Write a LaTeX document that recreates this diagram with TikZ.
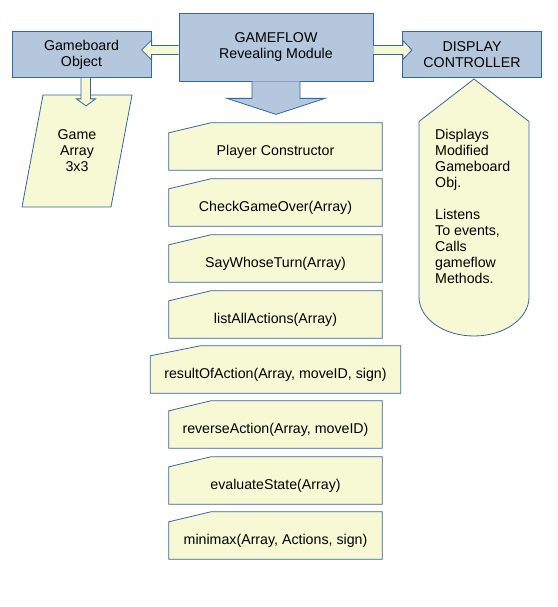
\documentclass[tikz,border=0pt]{standalone}
\usepackage{fontspec}
\setmainfont{Liberation Sans}
\usetikzlibrary{backgrounds}
\definecolor{boxblue}{HTML}{B4C7DC}
\definecolor{lineblue}{HTML}{3465A4}
\definecolor{noteyellow}{HTML}{F6F9D4}
\tikzset{
  module/.style={draw=lineblue,fill=boxblue,line width=.8pt,align=center,inner sep=0},
  note/.style={draw=lineblue,fill=noteyellow,line width=.8pt},
  method/.style={minimum height=37pt,inner sep=0},
  fatarrow/.style={draw=lineblue,line width=.8pt,line join=miter},
}

\begin{document}
\begin{tikzpicture}[x=1pt,y=-1pt,font=\fontsize{14.2}{16}\selectfont]
  \useasboundingbox (0,0) rectangle (557,607);

  \node[module,minimum width=139pt,minimum height=46pt] (board) at (81.5,54.5) {Gameboard\\Object};
  \node[module,minimum width=194pt,minimum height=68pt] (flow) at (276,47) {GAMEFLOW\\Revealing Module};
  \node[module,minimum width=139pt,minimum height=46pt] (display) at (472,54.5) {DISPLAY\\CONTROLLER};

  % block arrows out of the module
  \draw[fatarrow,fill=noteyellow] ([yshift=1.5pt]flow.west) -- ++(-27,0) -- ++(0,-5.5) -- ++(-10,10) -- ++(10,10) -- ++(0,-5.5) -- ++(27,0);
  \draw[fatarrow,fill=noteyellow] ([yshift=1.5pt]flow.east) -- ++(29.5,0) -- ++(0,-5) -- ++(9,9.5) -- ++(-9,9.5) -- ++(0,-5) -- ++(-29.5,0);
  \draw[fatarrow,fill=boxblue] ([xshift=-24pt]flow.south) -- ++(0,17) -- ++(-25,0) -- ++(49,16) -- ++(49,-16) -- ++(-25,0) -- ++(0,-17);

  % game array
  \draw[note] (43,95) -- (132,95) -- (111,207) -- (22,207) -- cycle;
  \draw[fatarrow,fill=noteyellow] ([xshift=-.5pt]board.south) -- ++(0,21) -- ++(-4.5,0) -- ++(9.5,7) -- ++(9.5,-7) -- ++(-5,0) -- ++(0,-21);
  \node[align=center] (array) at (77,151) {Game\\Array\\3x3};

  % display controller notes
  \draw[note] (474,79) -- (529,121.5) -- (529,297) .. controls (529,318.5) and (504.4,336) .. (474,336) .. controls (443.6,336) and (419,318.5) .. (419,297) -- (419,121.5) -- cycle;
  \node[align=left,anchor=north west,inner sep=0] (notes) at (435,129.5) {Displays\\Modified\\Gameboard\\Obj.\\[16pt]Listens\\To events,\\Calls\\gameflow\\Methods.};

  % methods
  \node[method,minimum width=213pt] (m1) at (275.5,151.5) {Player Constructor};
  \node[method,minimum width=213pt] (m2) at (275.5,207.5) {CheckGameOver(Array)};
  \node[method,minimum width=213pt] (m3) at (275.5,263.5) {SayWhoseTurn(Array)};
  \node[method,minimum width=213pt] (m4) at (275.5,319.5) {listAllActions(Array)};
  \node[method,minimum width=250pt] (m5) at (275.5,374.5) {resultOfAction(Array, moveID, sign)};
  \node[method,minimum width=213pt] (m6) at (275.5,429.5) {reverseAction(Array, moveID)};
  \node[method,minimum width=213pt] (m7) at (275.5,485.5) {evaluateState(Array)};
  \node[method,minimum width=213pt] (m8) at (275.5,540.5) {minimax(Array, Actions, sign)};

  \begin{scope}[on background layer]
    \draw[note] (m1.south west) -- (m1.north west) -- ([shift={(42pt,10pt)}]m1.north west) -- ([yshift=10pt]m1.north east) -- (m1.south east) -- cycle;
    \draw[note] (m2.south west) -- (m2.north west) -- ([shift={(42pt,10pt)}]m2.north west) -- ([yshift=10pt]m2.north east) -- (m2.south east) -- cycle;
    \draw[note] (m3.south west) -- (m3.north west) -- ([shift={(42pt,10pt)}]m3.north west) -- ([yshift=10pt]m3.north east) -- (m3.south east) -- cycle;
    \draw[note] (m4.south west) -- (m4.north west) -- ([shift={(42pt,10pt)}]m4.north west) -- ([yshift=10pt]m4.north east) -- (m4.south east) -- cycle;
    \draw[note] (m5.south west) -- (m5.north west) -- ([shift={(50pt,10pt)}]m5.north west) -- ([yshift=10pt]m5.north east) -- (m5.south east) -- cycle;
    \draw[note] (m6.south west) -- (m6.north west) -- ([shift={(42pt,10pt)}]m6.north west) -- ([yshift=10pt]m6.north east) -- (m6.south east) -- cycle;
    \draw[note] (m7.south west) -- (m7.north west) -- ([shift={(42pt,10pt)}]m7.north west) -- ([yshift=10pt]m7.north east) -- (m7.south east) -- cycle;
    \draw[note] (m8.south west) -- (m8.north west) -- ([shift={(42pt,10pt)}]m8.north west) -- ([yshift=10pt]m8.north east) -- (m8.south east) -- cycle;
  \end{scope}
\end{tikzpicture}
\end{document}
